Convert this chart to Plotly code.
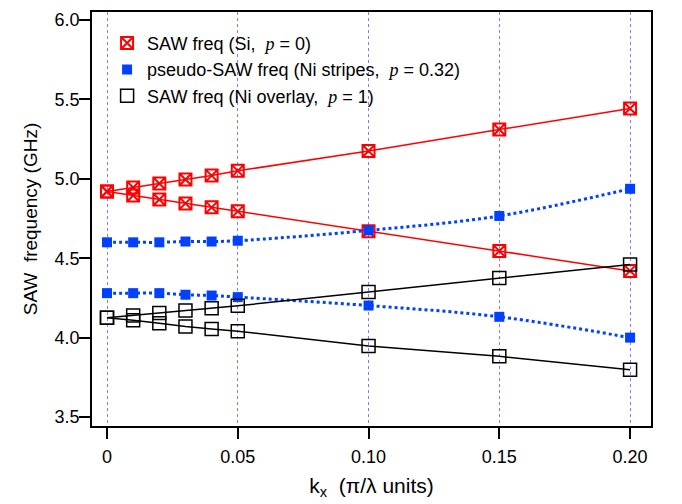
import plotly.graph_objects as go

kx = [0, 0.01, 0.02, 0.03, 0.04, 0.05, 0.10, 0.15, 0.20]

red_upper = [4.92, 4.945, 4.97, 4.995, 5.02, 5.05, 5.175, 5.31, 5.443]
red_lower = [4.92, 4.895, 4.87, 4.845, 4.82, 4.795, 4.67, 4.545, 4.42]
blue_upper = [4.60, 4.60, 4.60, 4.605, 4.605, 4.61, 4.675, 4.766, 4.937]
blue_lower = [4.28, 4.28, 4.28, 4.27, 4.265, 4.255, 4.202, 4.131, 4.00]
black_upper = [4.125, 4.14, 4.155, 4.17, 4.185, 4.20, 4.288, 4.375, 4.46]
black_lower = [4.125, 4.11, 4.09, 4.07, 4.055, 4.04, 3.948, 3.882, 3.797]

xtick_vals = [0, 0.05, 0.10, 0.15, 0.20]
xtick_text = ["0", "0.05", "0.10", "0.15", "0.20"]
ytick_vals = [3.5, 4.0, 4.5, 5.0, 5.5, 6.0]

legend_names = [
    'SAW freq (Si,  <span style="font-family:Liberation Serif"><i>p</i></span> = 0)',
    'pseudo-SAW freq (Ni stripes,  <span style="font-family:Liberation Serif"><i>p</i></span> = 0.32)',
    'SAW freq (Ni overlay,  <span style="font-family:Liberation Serif"><i>p</i></span> = 1)',
]

RED = "#ff0000"
BLUE = "#0040ff"
BLACK = "#000000"

fig = go.Figure()

red_marker = dict(symbol="square-x-open", size=12, color=RED, line=dict(color=RED, width=2))
blue_marker = dict(symbol="square", size=10, color=BLUE, line=dict(width=0))
black_marker = dict(symbol="square-open", size=13, color=BLACK, line=dict(color=BLACK, width=1.5))

for ys in (red_upper, red_lower):
    fig.add_trace(go.Scatter(x=kx, y=ys, mode="lines+markers", showlegend=False,
                             line=dict(color=RED, width=1.5), marker=red_marker))
for ys in (blue_upper, blue_lower):
    fig.add_trace(go.Scatter(x=kx, y=ys, mode="lines+markers", showlegend=False,
                             line=dict(color=BLUE, width=3, dash="dot", shape="spline"),
                             marker=blue_marker))
for ys in (black_upper, black_lower):
    fig.add_trace(go.Scatter(x=kx, y=ys, mode="lines+markers", showlegend=False,
                             line=dict(color=BLACK, width=1.5), marker=black_marker))

# legend-only entries (markers only)
for name, mk in zip(legend_names, (red_marker, blue_marker, black_marker)):
    fig.add_trace(go.Scatter(x=[None], y=[None], mode="markers", name=name, marker=mk))

fig.update_layout(
    width=682, height=504,
    margin=dict(l=92, r=31, t=10, b=78),
    paper_bgcolor="white", plot_bgcolor="white",
    font=dict(family="Liberation Sans, Arial, sans-serif", size=18, color="black"),
    legend=dict(x=0.027, y=0.969, xanchor="left", yanchor="top",
                bgcolor="rgba(0,0,0,0)", font=dict(size=18)),
    xaxis=dict(
        range=[-0.00574, 0.2080],
        tickvals=xtick_vals, ticktext=xtick_text,
        showline=True, linecolor="black", linewidth=1.5, mirror=True,
        ticks="outside", ticklen=11, tickwidth=1.5, tickcolor="black",
        ticklabelstandoff=3,
        showgrid=True, gridcolor="#8080ff", gridwidth=1, griddash="dot",
        zeroline=False,
        title=dict(text="k<sub>x</sub>  (π/λ units)", font=dict(size=21), standoff=12),
    ),
    yaxis=dict(
        range=[3.4436, 6.050],
        tickvals=ytick_vals, tickformat=".1f",
        showline=True, linecolor="black", linewidth=1.5, mirror=True,
        ticks="outside", ticklen=11, tickwidth=1.5, tickcolor="black",
        ticklabelstandoff=-4,
        showgrid=False, zeroline=False,
        title=dict(text="SAW  frequency (GHz)", font=dict(size=19), standoff=12),
    ),
)

fig.write_html("out.html")
